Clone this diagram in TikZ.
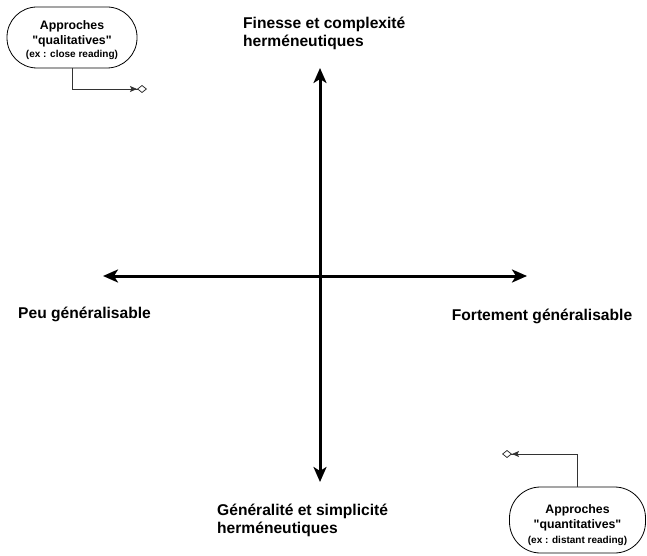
\documentclass[tikz,border=0pt]{standalone}
\usepackage{fontspec}
\setmainfont{Liberation Sans}[Ligatures=TeXOff]
\usetikzlibrary{arrows.meta}
\begin{document}
\begin{tikzpicture}[x=1pt,y=-1pt,
  axis/.style={line width=3pt,
    {Stealth[length=15pt,width=13pt,inset=4pt]}-{Stealth[length=15pt,width=13pt,inset=4pt]}},
  lbl/.style={font=\bfseries\fontsize{15.6}{18.5}\selectfont, anchor=base west, inner sep=0pt},
  oval/.style={draw, line width=0.8pt, align=center, inner sep=0pt,
    font=\bfseries\fontsize{12.3}{15}\selectfont},
  link/.style={draw=black!80, line width=0.8pt,
    -{Stealth[length=7pt,width=6pt,inset=1.5pt] Diamond[open,length=10pt,width=8pt]}}
]
\useasboundingbox (0,0) rectangle (647,556);

% axes
\coordinate (top) at (320,68);
\coordinate (bot) at (320,482);
\coordinate (lft) at (103,276);
\coordinate (rgt) at (527,276);
\draw[axis] (bot) -- (top);
\draw[axis] (lft) -- (rgt);

% axis labels
\node[lbl] (fin1) at (243,28.3) {Finesse et complexité};
\node[lbl] (fin2) at (243,46.8) {herméneutiques};
\node[lbl] (gen1) at (217,515) {Généralité et simplicité};
\node[lbl] (gen2) at (217,533.5) {herméneutiques};
\node[lbl] (peu) at (18,318) {Peu généralisable};
\node[lbl] (fort) at (451.7,320) {Fortement généralisable};

% ovals
\node[oval, rounded corners=30pt, minimum width=130pt, minimum height=61pt] (qual) at (72,37.5)
  {\rule{0pt}{14pt}Approches\\"qualitatives"\\[-2pt]{\bfseries\fontsize{10}{12}\selectfont (ex : close reading)}};
\node[oval, rounded corners=31pt, minimum width=136pt, minimum height=66pt] (quant) at (577.5,520)
  {\rule{0pt}{19.5pt}Approches\\"quantitatives"\\[0pt]{\bfseries\fontsize{10}{12}\selectfont (ex : distant reading)}};

% connectors
\coordinate (qend) at (147,89);
\coordinate (tend) at (502,454);
\draw[link] (qual.south) |- (qend);
\draw[link] (quant.north) |- (tend);
\end{tikzpicture}
\end{document}
